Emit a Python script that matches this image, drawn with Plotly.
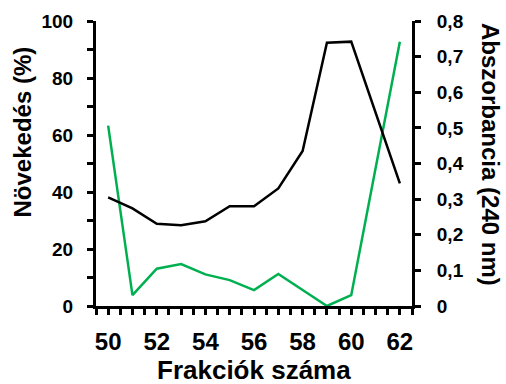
import plotly.graph_objects as go

# Fraction numbers
frakciok = [50, 51, 52, 53, 54, 55, 56, 57, 58, 59, 60, 61, 62]
# Growth (%) per fraction
novekedes = [63.3, 3.8, 13.1, 14.7, 11.1, 9.1, 5.6, 11.2, 5.6, 0.0, 3.8, 48.3, 92.7]
# Absorbance at 240 nm per fraction
abszorbancia = [0.305, 0.274, 0.231, 0.227, 0.238, 0.280, 0.280, 0.330,
                0.435, 0.739, 0.742, 0.543, 0.344]

left_ticks = [0, 20, 40, 60, 80, 100]
right_ticks = [0, 0.1, 0.2, 0.3, 0.4, 0.5, 0.6, 0.7, 0.8]
right_labels = ["0", "0,1", "0,2", "0,3", "0,4", "0,5", "0,6", "0,7", "0,8"]
x_ticks = [50, 52, 54, 56, 58, 60, 62]

FONT = "Liberation Sans, Arial, sans-serif"
W, H = 506, 384
L, R, T, B = 96, 94, 21, 78


def bold(labels):
    return ["<b>%s</b>" % s for s in labels]


fig = go.Figure()
fig.add_trace(go.Scatter(x=frakciok, y=novekedes, mode="lines",
                         line=dict(color="#00B050", width=2.5),
                         yaxis="y", showlegend=False))
fig.add_trace(go.Scatter(x=frakciok, y=abszorbancia, mode="lines",
                         line=dict(color="#000000", width=2.5),
                         yaxis="y2", showlegend=False))

axis_common = dict(showline=True, linecolor="black", linewidth=3,
                   ticks="outside", ticklen=6, tickwidth=3, tickcolor="black",
                   showgrid=False, zeroline=False)
minor_common = dict(ticks="outside", ticklen=6, tickwidth=3, tickcolor="black")

fig.update_layout(
    width=W, height=H,
    margin=dict(l=L, r=R, t=T, b=B),
    paper_bgcolor="white", plot_bgcolor="white",
    xaxis=dict(range=[49.5, 62.5], tickmode="array", tickvals=x_ticks,
               ticktext=bold([str(v) for v in x_ticks]),
               tickfont=dict(family=FONT, size=24, color="black", weight="bold"),
               ticklabelstandoff=6,
               minor=dict(tick0=49.5, dtick=0.5, **minor_common),
               **axis_common),
    yaxis=dict(range=[0, 100], tickmode="array", tickvals=left_ticks,
               ticktext=bold([str(v) for v in left_ticks]),
               tickfont=dict(family=FONT, size=19, color="black", weight="bold"),
               ticklabelstandoff=10,
               minor=dict(tick0=0, dtick=10, **minor_common),
               **axis_common),
    yaxis2=dict(range=[0, 0.8], overlaying="y", side="right",
                tickmode="array", tickvals=right_ticks,
                ticktext=bold(right_labels),
                tickfont=dict(family=FONT, size=19, color="black", weight="bold"),
                ticklabelstandoff=12,
                **axis_common),
)

pw, ph = W - L - R, H - T - B
fig.add_annotation(text="<b>Frakciók száma</b>", xref="paper", yref="paper",
                   x=(253.5 - L) / pw, y=-(370 - T - ph) / ph,
                   xanchor="center", yanchor="middle", showarrow=False,
                   font=dict(family=FONT, size=26, color="black"))
fig.add_annotation(text="<b>Növekedés (%)</b>", xref="paper", yref="paper",
                   x=(22 - L) / pw, y=1 - (132.5 - T) / ph, textangle=-90,
                   xanchor="center", yanchor="middle", showarrow=False,
                   font=dict(family=FONT, size=24, color="black"))
fig.add_annotation(text="<b>Abszorbancia (240 nm)</b>", xref="paper", yref="paper",
                   x=(491 - L) / pw, y=1 - (154 - T) / ph, textangle=90,
                   xanchor="center", yanchor="middle", showarrow=False,
                   font=dict(family=FONT, size=24, color="black"))

fig.write_html("out.html")
